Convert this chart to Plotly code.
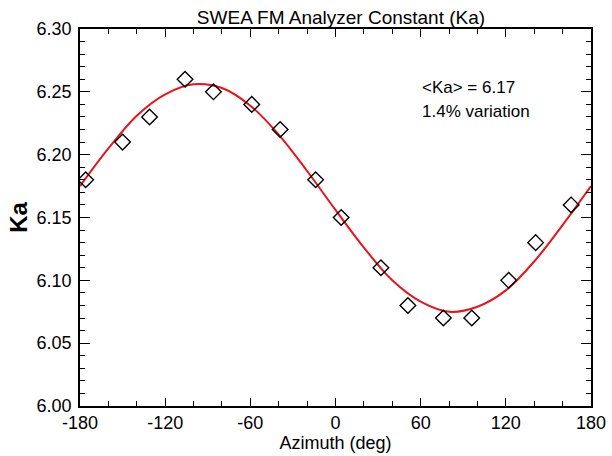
import plotly.graph_objects as go

# measured data points
azimuth = [-176, -150, -131, -106, -86, -59, -39, -14, 4, 32, 51, 76, 96, 122, 141, 166]
ka = [6.18, 6.21, 6.23, 6.26, 6.25, 6.24, 6.22, 6.18, 6.15, 6.11, 6.08, 6.07, 6.07, 6.10, 6.13, 6.16]

# fit curve
fit_x = [-180, -160, -140, -120, -100, -80, -60, -40, -20, 0, 20, 40, 60, 80, 100, 120, 140, 160, 180]
fit_y = [6.175, 6.205, 6.231, 6.248, 6.256, 6.253, 6.239, 6.216, 6.187, 6.156, 6.126, 6.100,
         6.083, 6.075, 6.079, 6.092, 6.115, 6.144, 6.175]

x_ticks = [-180, -120, -60, 0, 60, 120, 180]
y_ticks = [6.00, 6.05, 6.10, 6.15, 6.20, 6.25, 6.30]

FONT = "Liberation Sans, Arial, Helvetica, sans-serif"
L, R, T, B = 80, 591, 29, 406
W, H = 612, 456

fig = go.Figure()
fig.add_trace(go.Scatter(x=fit_x, y=fit_y, mode="lines", line=dict(color="#e8141b", width=2, shape="spline"),
                         hoverinfo="skip"))
fig.add_trace(go.Scatter(x=azimuth, y=ka, mode="markers",
                         marker=dict(symbol="diamond-open", size=12, color="black", line=dict(width=1.4, color="black"))))

fig.update_layout(
    width=W, height=H,
    margin=dict(l=L, r=W - R, t=T, b=H - B, autoexpand=False),
    paper_bgcolor="white", plot_bgcolor="white",
    showlegend=False,
    font=dict(family=FONT, color="black", size=18),
    title=dict(text="SWEA FM Analyzer Constant (Ka)", x=341 / W, xanchor="center", y=1 - 17 / H, yanchor="middle",
               font=dict(size=19, family=FONT, color="black")),
)
fig.update_xaxes(range=[-180, 180], tickvals=x_ticks, ticktext=[str(v) for v in x_ticks],
                 ticks="inside", ticklen=8, tickwidth=1.3, tickcolor="black", automargin=False,
                 minor=dict(dtick=20, ticks="inside", ticklen=5, tickwidth=1.3, tickcolor="black"),
                 showline=True, linecolor="black", linewidth=1.5, mirror="ticks", showgrid=False, zeroline=False,
                 tickfont=dict(size=18), ticklabelstandoff=0,
                 title=dict(text="Azimuth (deg)", font=dict(size=18), standoff=0))
fig.update_yaxes(range=[6.00, 6.30], tickvals=y_ticks, ticktext=[f"{v:.2f}" for v in y_ticks],
                 ticks="inside", ticklen=10, tickwidth=1.3, tickcolor="black", automargin=False,
                 minor=dict(dtick=0.01, ticks="inside", ticklen=5, tickwidth=1.3, tickcolor="black"),
                 showline=True, linecolor="black", linewidth=1.5, mirror="ticks", showgrid=False, zeroline=False,
                 tickfont=dict(size=18), ticklabelstandoff=3,
                 title=dict(text="<b>Ka</b>", font=dict(size=24), standoff=2))

pw, ph = R - L, B - T
fig.add_annotation(x=(420 - L) / pw, y=(B - 87) / ph, xref="paper", yref="paper", text="&lt;Ka&gt; = 6.17",
                   showarrow=False, xanchor="left", yanchor="middle", font=dict(size=17))
fig.add_annotation(x=(420 - L) / pw, y=(B - 111) / ph, xref="paper", yref="paper", text="1.4% variation",
                   showarrow=False, xanchor="left", yanchor="middle", font=dict(size=17))

fig.write_html("out.html", config={"displayModeBar": False},
               post_script="document.body.style.margin='0';document.body.style.padding='0';")
